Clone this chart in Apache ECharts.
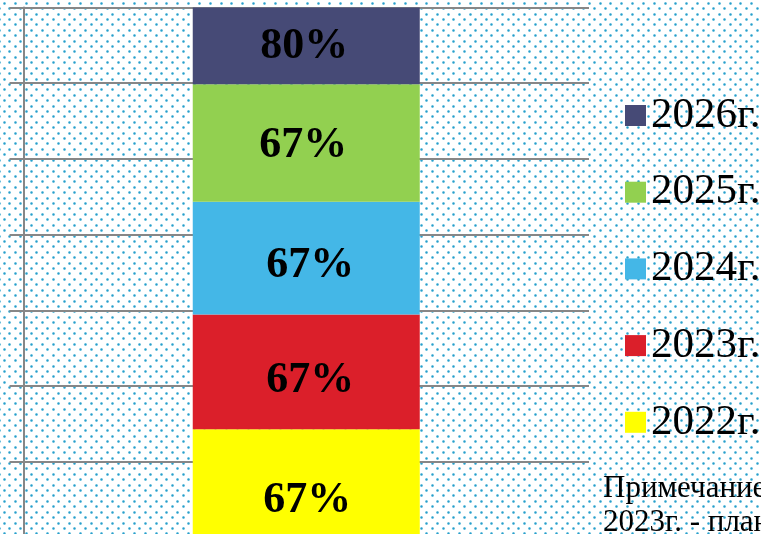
<!DOCTYPE html>
<html>
<head>
<meta charset="utf-8">
<script src="https://cdn.jsdelivr.net/npm/echarts@6/dist/echarts.min.js"></script>
<style>
html,body{margin:0;padding:0;background:#fff;overflow:hidden;}
#chart{width:761px;height:540px;}
</style>
</head>
<body>
<div id="chart"></div>
<script>
// ---- data ----
const categories = ['Доля'];
const seriesNames = ['2022г.', '2023г.', '2024г.', '2025г.', '2026г.'];
const values2022 = [14.3];
const values2023 = [15.15];
const values2024 = [14.9];
const values2025 = [15.5];
const values2026 = [10.15];
const barLabels = ['67%', '67%', '67%', '67%', '80%'];
const legendOrder = ['2026г.', '2025г.', '2024г.', '2023г.', '2022г.'];
const noteLines = ['Примечание:', '2023г. - план'];

// ---- dotted background ----
(function () {
  const W = 761, H = 540;
  const c = document.createElement('canvas');
  c.width = W; c.height = H;
  const ctx = c.getContext('2d');
  ctx.fillStyle = '#ffffff';
  ctx.fillRect(0, 0, W, H);
  const p = 10.83;
  function px(x, y, col) { ctx.fillStyle = col; ctx.fillRect(x, y, 1, 1); }
  for (let r = -1; r * (p / 2) < H + 6; r++) {
    const y = Math.round(2.7 + r * (p / 2));
    const xo = (r % 2 === 0) ? 4.0 : 4.0 + p / 2;
    for (let xf = xo - p; xf < W + 6; xf += p) {
      const x = Math.round(xf);
      px(x - 1, y - 1, '#bde3f0'); px(x + 1, y - 1, '#bde3f0');
      px(x - 1, y + 1, '#bde3f0'); px(x + 1, y + 1, '#bde3f0');
      px(x, y - 1, '#66bddc'); px(x, y + 1, '#66bddc');
      px(x - 1, y, '#66bddc'); px(x + 1, y, '#66bddc');
      px(x, y, '#2a9dca');
    }
  }
  document.getElementById('chart').style.background = 'url(' + c.toDataURL() + ')';
})();

const colors = ['#ffff00', '#db1f2a', '#44b7e7', '#92d050', '#464a76'];
const valueArrays = [values2022, values2023, values2024, values2025, values2026];
const labelOffsets = [[1, 17], [4, 9], [4, 8], [-3, 3], [-2, 1]];
const serif = '"Liberation Serif","Times New Roman",serif';

const series = seriesNames.map((name, i) => ({
  name: name,
  type: 'bar',
  stack: 'total',
  barWidth: 227,
  data: valueArrays[i],
  itemStyle: { color: colors[i] },
  label: {
    show: true,
    position: 'inside',
    formatter: () => barLabels[i],
    color: '#000',
    fontFamily: serif,
    fontWeight: 'bold',
    fontSize: 44,
    offset: labelOffsets[i]
  },
  emphasis: { disabled: true }
}));

const chart = echarts.init(document.getElementById('chart'), null, { renderer: 'canvas' });
chart.setOption({
  backgroundColor: 'transparent',
  animation: false,
  grid: { left: 23.5, right: 172, top: 7.5, bottom: 2.6 },
  xAxis: {
    type: 'category',
    data: categories,
    axisLine: { show: false },
    axisTick: { show: false },
    axisLabel: { show: false }
  },
  yAxis: {
    type: 'value',
    min: 0, max: 70, interval: 10,
    axisLine: { show: true, lineStyle: { color: '#878787', width: 2 } },
    axisTick: { show: true, length: 14, lineStyle: { color: '#878787', width: 2 } },
    axisLabel: { show: false },
    splitLine: { show: true, lineStyle: { color: '#878787', width: 2 } }
  },
  legend: {
    orient: 'vertical',
    left: 620,
    top: 89,
    data: legendOrder,
    itemWidth: 21,
    itemHeight: 21,
    itemGap: 33.7,
    icon: 'rect',
    selectedMode: false,
    textStyle: {
      fontFamily: serif,
      fontSize: 43,
      lineHeight: 42,
      color: '#000'
    }
  },
  graphic: noteLines.map((t, i) => ({
    type: 'text',
    x: 603,
    y: 489 + i * 34,
    style: {
      text: t,
      font: '31px ' + serif,
      fill: '#000',
      textVerticalAlign: 'middle'
    }
  })),
  series: series
});
</script>
</body>
</html>
